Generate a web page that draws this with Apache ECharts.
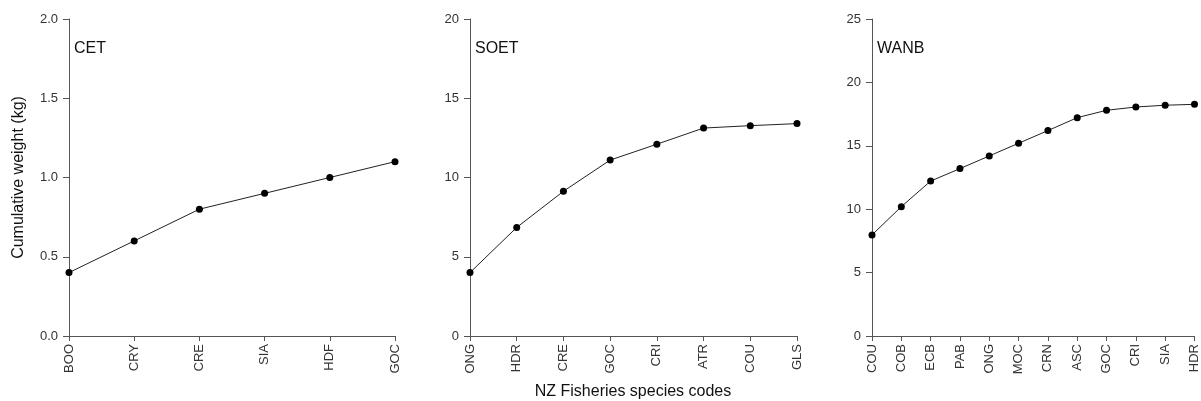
<!DOCTYPE html>
<html>
<head>
<meta charset="utf-8">
<script src="https://cdn.jsdelivr.net/npm/echarts@6/dist/echarts.min.js"></script>
<style>
html,body{margin:0;padding:0;background:#fff;}
#chart{width:1201px;height:401px;}
</style>
</head>
<body>
<div id="chart"></div>
<script>
var cetCategories = ['BOO','CRY','CRE','SIA','HDF','GOC'];
var cetValues = [0.4, 0.6, 0.8, 0.9, 1.0, 1.1];
var soetCategories = ['ONG','HDR','CRE','GOC','CRI','ATR','COU','GLS'];
var soetValues = [4.0, 6.85, 9.13, 11.1, 12.1, 13.12, 13.27, 13.4];
var wanbCategories = ['COU','COB','ECB','PAB','ONG','MOC','CRN','ASC','GOC','CRI','SIA','HDR'];
var wanbValues = [7.97, 10.2, 12.22, 13.2, 14.2, 15.2, 16.2, 17.22, 17.8, 18.06, 18.2, 18.27];
var panelTitles = ['CET','SOET','WANB'];
var yMax = [2, 20, 25];
var yInterval = [0.5, 5, 5];
var yDecimals = [1, 0, 0];
var yAxisTitle = 'Cumulative weight (kg)';
var xAxisTitle = 'NZ Fisheries species codes';

var FONT = 'Liberation Sans, Arial, sans-serif';
var axisColor = '#555';
var textColor = '#333';
var grids = [
  {left: 69, top: 19, width: 326, height: 317},
  {left: 470, top: 19, width: 327, height: 317},
  {left: 872, top: 19, width: 326, height: 317}
];
var cats = [cetCategories, soetCategories, wanbCategories];
var vals = [cetValues, soetValues, wanbValues];

var option = {
  backgroundColor: '#fff',
  animation: false,
  title: panelTitles.map(function(t, i){
    return {text: t, left: grids[i].left + 5, top: 41, padding: 0,
      textStyle: {fontFamily: FONT, fontSize: 16, fontWeight: 'normal', color: '#111'}};
  }),
  grid: grids,
  xAxis: cats.map(function(c, i){
    return {
      type: 'category', gridIndex: i, data: c, boundaryGap: false,
      axisLine: {show: true, lineStyle: {color: axisColor, width: 1}},
      axisTick: {show: true, alignWithLabel: true, length: 5, lineStyle: {color: axisColor}},
      axisLabel: {rotate: 90, margin: 8, fontFamily: FONT, fontSize: 13, color: textColor, interval: 0},
      splitLine: {show: false}
    };
  }),
  yAxis: yMax.map(function(m, i){
    var o = {
      type: 'value', gridIndex: i, min: 0, max: m, interval: yInterval[i],
      axisLine: {show: true, lineStyle: {color: axisColor, width: 1}},
      axisTick: {show: true, length: 6, lineStyle: {color: axisColor}},
      axisLabel: {margin: 11, fontFamily: FONT, fontSize: 13, color: textColor,
        formatter: (function(d){ return function(v){ return v.toFixed(d); }; })(yDecimals[i])},
      splitLine: {show: false}
    };
    if (i === 0) {
      o.name = yAxisTitle;
      o.nameLocation = 'middle';
      o.nameGap = 42;
      o.nameTextStyle = {fontFamily: FONT, fontSize: 16, color: '#111'};
    }
    return o;
  }),
  graphic: [{
    type: 'text', x: 633, y: 384,
    style: {text: xAxisTitle, fontFamily: FONT, fontSize: 16, fill: '#111', textAlign: 'center'}
  }],
  series: vals.map(function(v, i){
    return {
      type: 'line', xAxisIndex: i, yAxisIndex: i, data: v,
      symbol: 'circle', symbolSize: 7,
      lineStyle: {color: '#222', width: 1},
      itemStyle: {color: '#000'}
    };
  })
};
var chart = echarts.init(document.getElementById('chart'), null, {renderer: 'canvas'});
chart.setOption(option);
</script>
</body>
</html>
